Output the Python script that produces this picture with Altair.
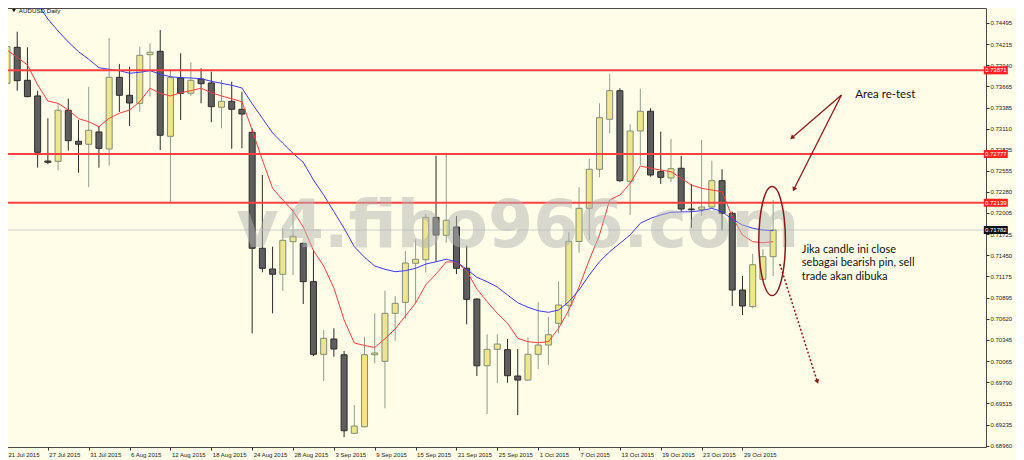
import altair as alt
import pandas as pd

# ---------------- data ----------------
N = 76
dates = pd.bdate_range("2015-07-21", periods=N)
date_labels = [f"{d.day} {d.strftime('%b')} {d.year}" for d in dates]
tick_idx = list(range(0, 73, 4))
tick_labels = [date_labels[k] for k in tick_idx]

open_ = [
    0.73702, 0.74173, 0.73741, 0.73536, 0.72685, 0.72681, 0.73349, 0.72943, 0.72904, 0.73065,
    0.72842, 0.73780, 0.73545, 0.73440, 0.74076, 0.74121, 0.73008, 0.73771, 0.73571, 0.73758,
    0.73706, 0.73388, 0.73466, 0.73362, 0.73061, 0.71543, 0.71272, 0.71203, 0.71629, 0.71608,
    0.71106, 0.70156, 0.70356, 0.70150, 0.69122, 0.69208, 0.70150, 0.70064, 0.70692, 0.70836,
    0.71347, 0.71394, 0.71948, 0.71713, 0.71822, 0.71281, 0.70879, 0.70006, 0.70221, 0.70216,
    0.69872, 0.69819, 0.70156, 0.70277, 0.70561, 0.70797, 0.71632, 0.72066, 0.72577, 0.73231,
    0.73605, 0.72420, 0.73078, 0.73336, 0.72545, 0.72463, 0.72590, 0.72057, 0.72053, 0.72083,
    0.72427, 0.72001, 0.70997, 0.70779, 0.71137, 0.71433,
]
close = [
    0.74181, 0.73736, 0.73527, 0.72799, 0.72668, 0.73349, 0.72951, 0.72904, 0.73087, 0.72851,
    0.73780, 0.73545, 0.73444, 0.74068, 0.74108, 0.73022, 0.73775, 0.73571, 0.73741, 0.73697,
    0.73396, 0.73466, 0.73362, 0.73300, 0.71543, 0.71281, 0.71203, 0.71647, 0.71700, 0.71106,
    0.70156, 0.70365, 0.70225, 0.69156, 0.69217, 0.70150, 0.70173, 0.70692, 0.70823, 0.71350,
    0.71399, 0.71948, 0.71717, 0.71909, 0.71281, 0.70875, 0.70006, 0.70221, 0.70290, 0.69876,
    0.69819, 0.70156, 0.70277, 0.70412, 0.70801, 0.71634, 0.72066, 0.72577, 0.73252, 0.73605,
    0.72427, 0.73078, 0.73336, 0.72502, 0.72472, 0.72584, 0.72057, 0.72048, 0.72083, 0.72427,
    0.72001, 0.70997, 0.70788, 0.71328, 0.71433, 0.71782,
]
high = [
    0.74596, 0.74377, 0.74173, 0.73605, 0.73244, 0.73440, 0.73500, 0.73222, 0.73657, 0.73143,
    0.74291, 0.73955, 0.73919, 0.74181, 0.74225, 0.74399, 0.73876, 0.74095, 0.73977, 0.73898,
    0.73854, 0.73745, 0.73723, 0.73592, 0.73113, 0.72502, 0.71564, 0.71805, 0.72066, 0.71616,
    0.71521, 0.70474, 0.70496, 0.70199, 0.69492, 0.70386, 0.70692, 0.70988, 0.70919, 0.71507,
    0.71661, 0.71992, 0.72755, 0.72794, 0.71965, 0.71577, 0.70888, 0.70417, 0.70417, 0.70356,
    0.70225, 0.70378, 0.70836, 0.70648, 0.71106, 0.71752, 0.72341, 0.72711, 0.73440, 0.73824,
    0.73637, 0.73165, 0.73631, 0.73375, 0.73069, 0.72973, 0.72751, 0.72384, 0.72960, 0.72689,
    0.72577, 0.72022, 0.71180, 0.71468, 0.71534, 0.72175,
]
low = [
    0.73396, 0.73605, 0.73519, 0.72598, 0.72642, 0.72564, 0.72820, 0.72532, 0.72341, 0.72598,
    0.72624, 0.73326, 0.73143, 0.73330, 0.73527, 0.72829, 0.72140, 0.73222, 0.73536, 0.73440,
    0.73192, 0.73113, 0.72846, 0.72851, 0.70430, 0.71229, 0.70692, 0.70984, 0.71193, 0.70814,
    0.70133, 0.69806, 0.70124, 0.69070, 0.69113, 0.69200, 0.70038, 0.69449, 0.70334, 0.70618,
    0.70823, 0.71229, 0.71367, 0.71616, 0.71206, 0.70548, 0.69872, 0.69374, 0.69776, 0.69784,
    0.69361, 0.69810, 0.69963, 0.70016, 0.70430, 0.70648, 0.71485, 0.71651, 0.72472, 0.73048,
    0.72414, 0.71979, 0.72633, 0.72480, 0.72384, 0.72410, 0.72022, 0.71812, 0.71969, 0.72066,
    0.71773, 0.70788, 0.70670, 0.70758, 0.71128, 0.71180,
]
ma_fast = [
    0.74138, 0.74042, 0.73941, 0.73680, 0.73470, 0.73440, 0.73353, 0.73239, 0.73199, 0.73134,
    0.73244, 0.73309, 0.73353, 0.73461, 0.73637, 0.73571, 0.73536, 0.73579, 0.73605, 0.73637,
    0.73579, 0.73536, 0.73500, 0.73461, 0.73091, 0.72698, 0.72328, 0.72175, 0.72031, 0.71822,
    0.71514, 0.71311, 0.71023, 0.70605, 0.70304, 0.70271, 0.70245, 0.70360, 0.70487, 0.70657,
    0.70827, 0.71066, 0.71206, 0.71364, 0.71364, 0.71246, 0.71010, 0.70844, 0.70692, 0.70561,
    0.70365, 0.70321, 0.70307, 0.70321, 0.70496, 0.70735, 0.71036, 0.71390, 0.71717, 0.72175,
    0.72240, 0.72393, 0.72620, 0.72590, 0.72567, 0.72545, 0.72459, 0.72371, 0.72328, 0.72306,
    0.72283, 0.71956, 0.71717, 0.71629, 0.71616, 0.71629,
]
ma_slow = [
    0.75289, 0.75106, 0.74923, 0.74740, 0.74543, 0.74386, 0.74242, 0.74116, 0.74016, 0.73906,
    0.73885, 0.73867, 0.73833, 0.73846, 0.73867, 0.73820, 0.73788, 0.73775, 0.73771, 0.73762,
    0.73728, 0.73702, 0.73676, 0.73640, 0.73435, 0.73244, 0.73052, 0.72917, 0.72786, 0.72668,
    0.72437, 0.72240, 0.72022, 0.71805, 0.71564, 0.71425, 0.71311, 0.71268, 0.71237, 0.71250,
    0.71281, 0.71337, 0.71367, 0.71399, 0.71367, 0.71268, 0.71163, 0.71106, 0.71036, 0.70932,
    0.70831, 0.70771, 0.70726, 0.70705, 0.70735, 0.70844, 0.70997, 0.71193, 0.71367, 0.71498,
    0.71608, 0.71717, 0.71870, 0.71935, 0.71979, 0.72014, 0.72018, 0.72022, 0.72035, 0.72066,
    0.72022, 0.71922, 0.71848, 0.71805, 0.71782, 0.71773,
]
levels = [0.73871, 0.72777, 0.72139]
bid = 0.71782
yticks = [0.74495, 0.74215, 0.73940, 0.73665, 0.73385, 0.73110, 0.72835, 0.72555, 0.72280,
          0.72005, 0.71725, 0.71450, 0.71175, 0.70895, 0.70620, 0.70345, 0.70065, 0.69790,
          0.69515, 0.69235, 0.68960]

# ---------------- tables ----------------
df = pd.DataFrame({
    "i": list(range(N)), "date": date_labels,
    "open": open_, "high": high, "low": low, "close": close,
    "ma_fast": ma_fast, "ma_slow": ma_slow,
})
df["dir"] = ["up" if c >= o else "down" for o, c in zip(open_, close)]

xs = alt.Scale(domain=[0, 95.35], nice=False, zero=False)
ys = alt.Scale(domain=[0.68943, 0.74687], nice=False, zero=False)

AX_FONT = "Liberation Sans"
label_expr = "[" + ",".join(f"'{t}'" for t in tick_labels) + "][round(datum.value / 4)]"
x_axis = alt.Axis(values=tick_idx, labelExpr=label_expr, orient="bottom", title=None,
                  grid=False, domain=False, tickSize=3, tickColor="#333333",
                  labelAlign="left", labelBaseline="top", labelPadding=1, labelOffset=1,
                  labelFont=AX_FONT, labelFontSize=6, labelColor="#222222",
                  labelOverlap=False, labelBound=False, labelFlush=False)
y_axis = alt.Axis(orient="right", values=yticks, format=".5f", title=None, grid=False,
                  domain=False, tickSize=3, tickColor="#333333", labelPadding=1,
                  labelFont=AX_FONT, labelFontSize=6, labelColor="#222222",
                  labelOverlap=False, labelFlush=False, labelBound=False)


def X(f):
    return alt.X(f, scale=xs, axis=x_axis, title=None)


def Y(f):
    return alt.Y(f, scale=ys, axis=y_axis, title=None)


base = alt.Chart(df)

bid_line = alt.Chart(pd.DataFrame({"p": [bid]})).mark_rule(
    color="#CFCFCF", strokeWidth=1).encode(y=Y("p:Q"))

wicks = base.mark_rule(strokeWidth=1, clip=True).encode(
    x=X("i:Q"), y=Y("low:Q"), y2="high:Q",
    color=alt.Color("dir:N", scale=alt.Scale(domain=["up", "down"], range=["#8E9E8C", "#2B2B2B"]), legend=None),
)
bodies = base.mark_bar(size=6, strokeWidth=1, clip=True).encode(
    x=X("i:Q"), y=Y("open:Q"), y2="close:Q",
    fill=alt.Fill("dir:N", scale=alt.Scale(domain=["up", "down"], range=["#EFE58C", "#5E5E5E"]), legend=None),
    stroke=alt.Stroke("dir:N", scale=alt.Scale(domain=["up", "down"], range=["#7E8E76", "#2B2B2B"]), legend=None),
)
fast = base.mark_line(clip=True, strokeWidth=1, color="#FF3B3B").encode(x=X("i:Q"), y=Y("ma_fast:Q"))
slow = base.mark_line(clip=True, strokeWidth=1, color="#3B3BFF").encode(x=X("i:Q"), y=Y("ma_slow:Q"))

level_rules = alt.Chart(pd.DataFrame({"p": levels})).mark_rule(
    color="#FF4040", strokeWidth=2).encode(y=Y("p:Q"))

wm = alt.Chart(pd.DataFrame({"t": ["v4.fibo966.com"], "x": [50.0], "y": [0.71560]})).mark_text(
    font="DejaVu Sans", fontWeight="bold", fontSize=65, color="#B4B4B4", opacity=0.5,
    align="center", baseline="alphabetic").encode(x=X("x:Q"), y=Y("y:Q"), text="t:N")

lab_df = pd.DataFrame({
    "p": levels + [bid],
    "label": [f"{v:.5f}" for v in levels + [bid]],
    "fill": ["#FF2020"] * 3 + ["#111111"],
    "bx": [96.80] * 4,
})
lab_box = alt.Chart(lab_df).mark_tick(orient="horizontal", size=24, thickness=8, opacity=1,
                                      clip=False).encode(
    x=X("bx:Q"), y=Y("p:Q"), color=alt.Color("fill:N", scale=None))
lab_txt = alt.Chart(lab_df).mark_text(color="white", font=AX_FONT, fontSize=6, align="center",
                                      baseline="middle", clip=False).encode(
    x=X("bx:Q"), y=Y("p:Q"), text="label:N")

title_txt = alt.Chart(pd.DataFrame({"t": ["AUDUSD,Daily"], "x": [1.16], "y": [0.74648]})).mark_text(
    font=AX_FONT, fontSize=6.2, color="#111111", align="left", baseline="middle").encode(
    x=X("x:Q"), y=Y("y:Q"), text="t:N")
title_tri = alt.Chart(pd.DataFrame({"x": [0.68], "y": [0.74652]})).mark_point(
    shape="triangle-down", filled=True, size=14, color="#111111", opacity=1).encode(
    x=X("x:Q"), y=Y("y:Q"))

ANN = "#8B1A1A"
ann1 = alt.Chart(pd.DataFrame({"t": ["Area re-test"], "x": [83.04], "y": [0.73506]})).mark_text(
    font="Lato", fontSize=11.5, color="#111111", align="left", baseline="alphabetic").encode(
    x=X("x:Q"), y=Y("y:Q"), text="t:N")
ann2 = alt.Chart(pd.DataFrame({"x": [77.81], "y": [0.71481]})).mark_text(
    text=["Jika candle ini close", "sebagai bearish pin, sell", "trade akan dibuka"],
    font="Lato", fontSize=11, lineHeight=13.4, color="#111111", align="left",
    baseline="alphabetic", clip=False).encode(x=X("x:Q"), y=Y("y:Q"))

arrows = alt.Chart(pd.DataFrame({
    "x": [81.69, 81.69], "y": [0.73549, 0.73549], "x2": [76.84, 77.03], "y2": [0.72990, 0.72315]
})).mark_rule(color=ANN, strokeWidth=1.3).encode(x=X("x:Q"), y=Y("y:Q"), x2="x2:Q", y2="y2:Q")
dotted = alt.Chart(pd.DataFrame({"x": [75.65], "y": [0.71337], "x2": [79.33], "y2": [0.69797]})).mark_rule(
    color=ANN, strokeWidth=1.5, strokeDash=[2, 2]).encode(x=X("x:Q"), y=Y("y:Q"), x2="x2:Q", y2="y2:Q")
heads = alt.Chart(pd.DataFrame({"x": [76.84, 77.03, 79.33], "y": [0.72990, 0.72315, 0.69797],
                                "a": [229.5, 207.0, 162.0]})).mark_point(
    shape="triangle-up", filled=True, size=26, color=ANN, opacity=1).encode(
    x=X("x:Q"), y=Y("y:Q"), angle=alt.Angle("a:Q", scale=None))
ellipse = alt.Chart(pd.DataFrame({"x": [74.9], "y": [0.71638]})).mark_point(
    shape="M 0 -1 A 0.244 1 0 1 1 0 1 A 0.244 1 0 1 1 0 -1 Z", size=11881, filled=False,
    strokeWidth=1.5, color=ANN, opacity=1).encode(x=X("x:Q"), y=Y("y:Q"))

chart = alt.layer(
    wicks, bid_line, bodies, fast, slow, level_rules, wm, lab_box, lab_txt,
    title_tri, title_txt, arrows, dotted, heads, ellipse, ann1, ann2,
).properties(
    width=984, height=439,
    padding={"left": -6, "top": 0, "right": 30, "bottom": 14},
    autosize=alt.AutoSizeParams(type="none"),
    background="#FFFDE8",
).configure_view(stroke="#4A4A4A", strokeWidth=1)

chart.save("out.html", embed_options={"renderer": "svg", "actions": False})
